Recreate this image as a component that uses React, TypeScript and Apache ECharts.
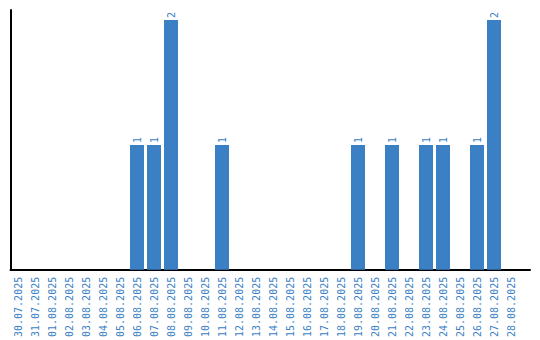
import React, { useEffect, useRef } from "react";
import * as echarts from "echarts";

const categories = [
  "30.07.2025", "31.07.2025", "01.08.2025", "02.08.2025", "03.08.2025",
  "04.08.2025", "05.08.2025", "06.08.2025", "07.08.2025", "08.08.2025",
  "09.08.2025", "10.08.2025", "11.08.2025", "12.08.2025", "13.08.2025",
  "14.08.2025", "15.08.2025", "16.08.2025", "17.08.2025", "18.08.2025",
  "19.08.2025", "20.08.2025", "21.08.2025", "22.08.2025", "23.08.2025",
  "24.08.2025", "25.08.2025", "26.08.2025", "27.08.2025", "28.08.2025",
];
const values: (number | null)[] = [
  null, null, null, null, null,
  null, null, 1, 1, 2,
  null, null, 1, null, null,
  null, null, null, null, null,
  1, null, 1, null, 1,
  1, null, 1, 2, null,
];

const BLUE = "#3b7fc4";
const FONT = "DejaVu Sans Mono";

export default function App() {
  const ref = useRef<HTMLDivElement>(null);
  useEffect(() => {
    if (!ref.current) return;
    const chart = echarts.init(ref.current, undefined, { renderer: "svg" });
    chart.setOption({
      animation: false,
      grid: [
        { left: 9.5, right: 20.5, top: 10, bottom: 70, containLabel: false },
        { left: 10.5, right: 10, top: 10, bottom: 70, containLabel: false },
      ],
      xAxis: [
        {
          type: "category",
          gridIndex: 0,
          data: categories,
          axisLine: { show: false },
          axisTick: { show: false },
          axisLabel: {
            interval: 0,
            rotate: 90,
            color: BLUE,
            fontFamily: FONT,
            fontSize: 10,
            margin: 7,
          },
        },
        {
          type: "value",
          gridIndex: 1,
          min: 0,
          max: 1,
          axisLine: { show: true, onZero: false, lineStyle: { color: "#000", width: 2 } },
          axisTick: { show: false },
          axisLabel: { show: false },
          splitLine: { show: false },
        },
      ],
      yAxis: [
        {
          type: "value",
          gridIndex: 0,
          min: 0,
          max: 2.08,
          axisLine: { show: false },
          axisTick: { show: false },
          axisLabel: { show: false },
          splitLine: { show: false },
        },
        {
          type: "value",
          gridIndex: 1,
          min: 0,
          max: 1,
          axisLine: { show: true, onZero: false, lineStyle: { color: "#000", width: 2 } },
          axisTick: { show: false },
          axisLabel: { show: false },
          splitLine: { show: false },
        },
      ],
      series: [
        {
          type: "bar",
          xAxisIndex: 0,
          yAxisIndex: 0,
          data: values,
          barWidth: 14,
          itemStyle: { color: BLUE },
          label: {
            show: true,
            position: "top",
            rotate: 90,
            align: "left",
            verticalAlign: "middle",
            distance: 2,
            color: BLUE,
            fontFamily: FONT,
            fontSize: 10,
          },
        },
      ],
    });
    return () => chart.dispose();
  }, []);
  return <div ref={ref} style={{ width: 540, height: 340, position: "absolute", left: 0, top: 0 }} />;
}
